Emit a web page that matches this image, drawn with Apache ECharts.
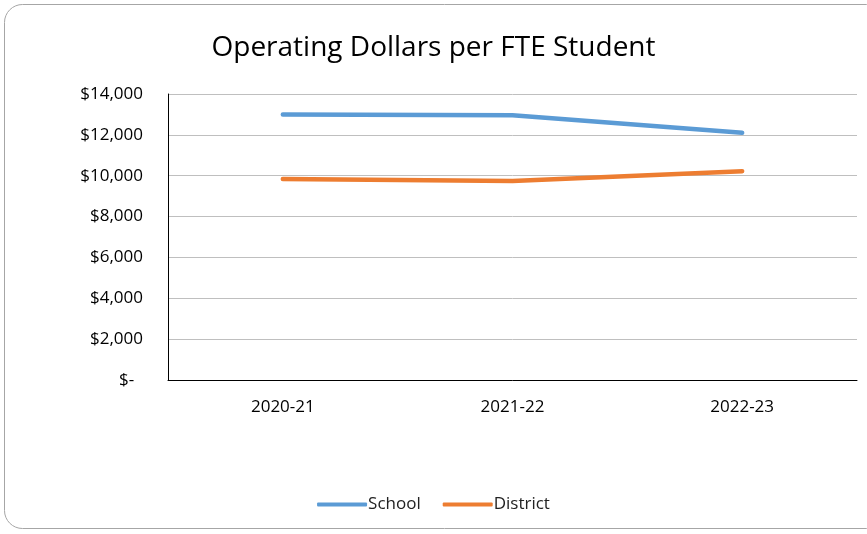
<!DOCTYPE html>
<html>
<head>
<meta charset="utf-8">
<script src="https://cdn.jsdelivr.net/npm/echarts@6/dist/echarts.min.js"></script>
<style>
  html, body { margin: 0; padding: 0; background: #fff; }
  #chart { width: 867px; height: 534px; }
</style>
</head>
<body>
<div id="chart"></div>
<script>
// operating dollars per FTE student
const years = ['2020-21', '2021-22', '2022-23'];
const school = [13000, 12960, 12100];
const district = [9840, 9740, 10220];

const font = 'Open Sans';

const chart = echarts.init(document.getElementById('chart'));
chart.setOption({
    backgroundColor: '#fff',
    textStyle: {fontFamily: font},
    graphic: [{
        type: 'rect',
        shape: {x: 4.5, y: 4.5, width: 880, height: 524, r: 18},
        style: {fill: 'none', stroke: '#a6a6a6', lineWidth: 1},
        silent: true
    }],
    title: {
        text: 'Operating Dollars per FTE Student',
        left: 'center',
        top: 29,
        textStyle: {fontFamily: font, fontSize: 28, fontWeight: 'normal', color: '#000'}
    },
    legend: {
        bottom: 16,
        left: 'center',
        itemWidth: 50,
        itemHeight: 4,
        itemGap: 22,
        icon: 'roundRect',
        textStyle: {fontFamily: font, fontSize: 17, color: '#222', padding: [0, 0, 0, -4]},
        data: ['School', 'District']
    },
    grid: {left: 168, right: 10, top: 94, bottom: 154},
    xAxis: {
        type: 'category',
        data: years,
        axisLine: {lineStyle: {color: '#000', width: 1}},
        axisTick: {show: false},
        axisLabel: {fontFamily: font, fontSize: 17, color: '#000', margin: 19}
    },
    yAxis: {
        type: 'value',
        min: 0,
        max: 14000,
        interval: 2000,
        axisLine: {show: true, lineStyle: {color: '#000', width: 1}},
        axisTick: {show: false},
        splitLine: {lineStyle: {color: '#bfbfbf', width: 1}},
        axisLabel: {
            fontFamily: font, fontSize: 17, color: '#000', margin: 25,
            formatter: v => v === 0 ? '$-  ' : '$' + v.toLocaleString('en-US')
        }
    },
    series: [
        {
            name: 'School', type: 'line', data: school,
            symbol: 'none', lineStyle: {width: 4.5, color: '#5b9bd5', cap: 'round'},
            itemStyle: {color: '#5b9bd5'}
        },
        {
            name: 'District', type: 'line', data: district,
            symbol: 'none', lineStyle: {width: 4.5, color: '#ed7d31', cap: 'round'},
            itemStyle: {color: '#ed7d31'}
        }
    ]
});
</script>
</body>
</html>
